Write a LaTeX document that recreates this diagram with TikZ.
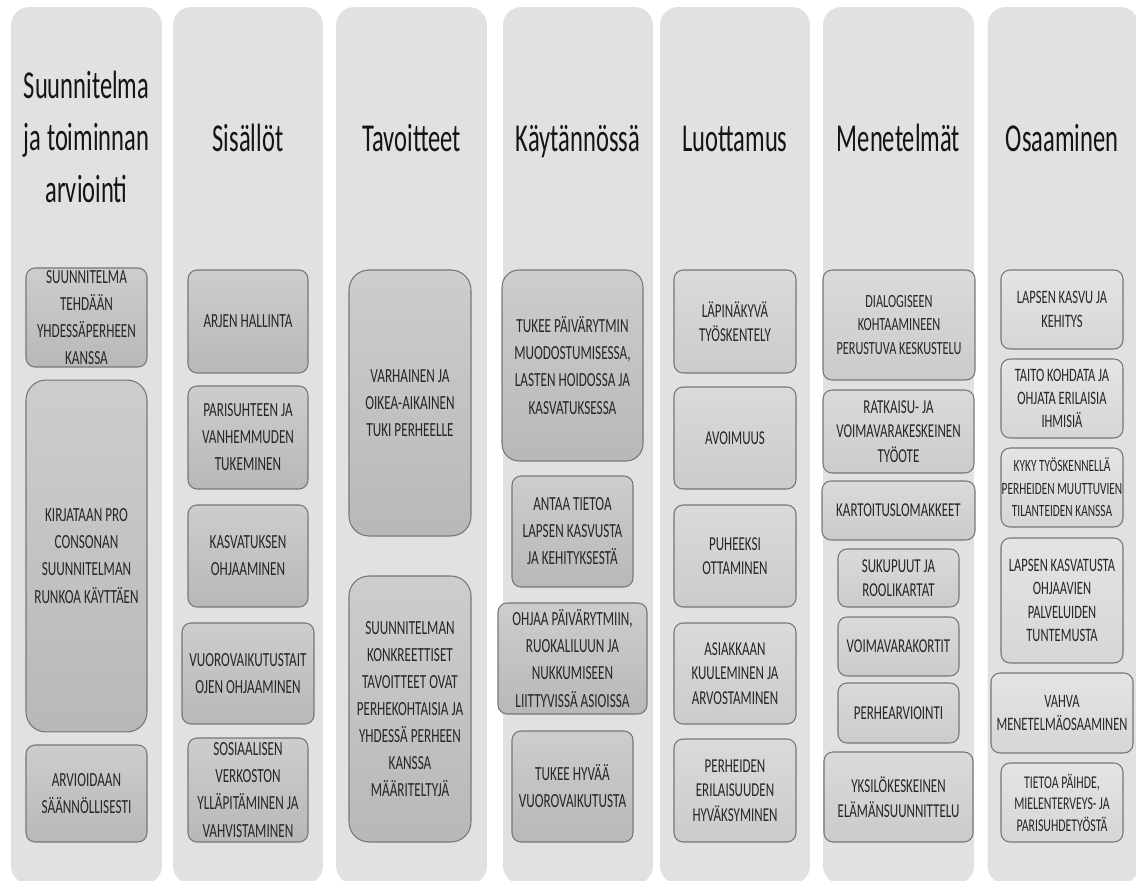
\documentclass[tikz,border=0pt]{standalone}
\usepackage{fontspec}
\setmainfont{Carlito}[FakeStretch=0.66]
\newfontfamily\headfont{Carlito}[FakeStretch=0.62]
\definecolor{lanegray}{HTML}{E1E1E1}
\definecolor{boxline}{HTML}{767676}
\definecolor{boxtext}{HTML}{262626}
\definecolor{darktop}{HTML}{CDCDCD}
\definecolor{darkbot}{HTML}{B8B8B8}
\definecolor{midtop}{HTML}{DADADA}
\definecolor{midbot}{HTML}{CBCBCB}
\definecolor{lighttop}{HTML}{E4E4E4}
\definecolor{lightbot}{HTML}{D6D6D6}

\begin{document}
\begin{tikzpicture}[x=0.02cm,y=-0.02cm]
%style for column background
\tikzstyle{lane} = [rectangle, rounded corners=0.36cm, fill=lanegray, minimum width=3.02cm, minimum height=17.54cm, inner sep=0pt]

%style for column title
\tikzstyle{coltitle} = [font=\headfont\fontsize{22.5}{29.5}\selectfont, align=center, text=black!92]

%style for dark boxes (first four columns)
\tikzstyle{dbox} = [rectangle, rounded corners=0.18cm, draw=boxline, line width=0.6pt, top color=darktop, bottom color=darkbot, align=center, inner sep=0pt, text=boxtext, font=\fontsize{11.4}{15.4}\selectfont]

%style for middle boxes
\tikzstyle{mbox} = [dbox, top color=midtop, bottom color=midbot, font=\fontsize{11.2}{14}\selectfont]

%style for light boxes (last column)
\tikzstyle{lbox} = [dbox, top color=lighttop, bottom color=lightbot, font=\fontsize{10.8}{13.2}\selectfont]

\useasboundingbox (0,0) rectangle (1136,881);

%place columns
\node[lane](lane1) at (86.5,445.5) {};
\node[lane, minimum width=3cm](lane2) at (248,445.5) {};
\node[lane](lane3) at (411.5,445.5) {};
\node[lane, minimum width=3cm](lane4) at (578,445.5) {};
\node[lane, minimum width=3cm](lane5) at (735,445.5) {};
\node[lane](lane6) at (898.5,445.5) {};
\node[lane, minimum width=3.02cm](lane7) at (1063,445.5) {};

%place titles
\node[coltitle](plantitle) at (86.5,137) {Suunnitelma\\ja toiminnan\\arviointi};
\node[coltitle, anchor=base](contenttitle) at (248,152) {Sisällöt};
\node[coltitle, anchor=base](goaltitle) at (411.5,152) {Tavoitteet};
\node[coltitle, anchor=base](practtitle) at (578,152) {Käytännössä};
\node[coltitle, anchor=base](trusttitle) at (735,152) {Luottamus};
\node[coltitle, anchor=base](methtitle) at (898.5,152) {Menetelmät};
\node[coltitle, anchor=base](skilltitle) at (1062,152) {Osaaminen};

%first column
\node[dbox, minimum width=2.42cm, minimum height=1.98cm](plan1) at (86.5,317.5) {SUUNNITELMA\\TEHDÄÄN\\YHDESSÄPERHEEN\\KANSSA};
\node[dbox, rounded corners=0.4cm, minimum width=2.42cm, minimum height=7.04cm](plan2) at (86.5,556) {KIRJATAAN PRO\\CONSONAN\\SUUNNITELMAN\\RUNKOA KÄYTTÄEN};
\node[dbox, minimum width=2.42cm, minimum height=1.94cm](plan3) at (86.5,793.5) {ARVIOIDAAN\\SÄÄNNÖLLISESTI};

%second column
\node[dbox, minimum width=2.4cm, minimum height=2.06cm](cont1) at (248,321.5) {ARJEN HALLINTA};
\node[dbox, minimum width=2.4cm, minimum height=2.06cm](cont2) at (248,437.5) {PARISUHTEEN JA\\VANHEMMUDEN\\TUKEMINEN};
\node[dbox, minimum width=2.4cm, minimum height=2.04cm](cont3) at (248,556) {KASVATUKSEN\\OHJAAMINEN};
\node[dbox, minimum width=2.64cm, minimum height=2.02cm](cont4) at (248,673.5) {VUOROVAIKUTUSTAIT\\OJEN OHJAAMINEN};
\node[dbox, minimum width=2.4cm, minimum height=2.08cm](cont5) at (248,790) {SOSIAALISEN\\VERKOSTON\\YLLÄPITÄMINEN JA\\VAHVISTAMINEN};

%third column
\node[dbox, rounded corners=0.4cm, minimum width=2.44cm, minimum height=5.32cm](goal1) at (410,403) {VARHAINEN JA\\OIKEA-AIKAINEN\\TUKI PERHEELLE};
\node[dbox, rounded corners=0.4cm, minimum width=2.44cm, minimum height=5.32cm](goal2) at (410,709) {SUUNNITELMAN\\KONKREETTISET\\TAVOITTEET OVAT\\PERHEKOHTAISIA JA\\YHDESSÄ PERHEEN\\KANSSA\\MÄÄRITELTYJÄ};

%fourth column
\node[dbox, rounded corners=0.34cm, minimum width=2.82cm, minimum height=3.82cm](pract1) at (572.5,365.5) {TUKEE PÄIVÄRYTMIN\\MUODOSTUMISESSA,\\LASTEN HOIDOSSA JA\\KASVATUKSESSA};
\node[dbox, minimum width=2.42cm, minimum height=2.22cm](pract2) at (572.5,531.5) {ANTAA TIETOA\\LAPSEN KASVUSTA\\JA KEHITYKSESTÄ};
\node[dbox, minimum width=2.98cm, minimum height=2.22cm](pract3) at (572.5,658.5) {OHJAA PÄIVÄRYTMIIN,\\RUOKALILUUN JA\\NUKKUMISEEN\\LIITTYVISSÄ ASIOISSA};
\node[dbox, minimum width=2.42cm, minimum height=2.22cm](pract4) at (572.5,786.5) {TUKEE HYVÄÄ\\VUOROVAIKUTUSTA};

%fifth column
\node[mbox, minimum width=2.44cm, minimum height=2.06cm](trust1) at (735,321.5) {LÄPINÄKYVÄ\\TYÖSKENTELY};
\node[mbox, minimum width=2.44cm, minimum height=2.04cm](trust2) at (735,438) {AVOIMUUS};
\node[mbox, minimum width=2.44cm, minimum height=2.04cm](trust3) at (735,556) {PUHEEKSI\\OTTAMINEN};
\node[mbox, minimum width=2.44cm, minimum height=2.02cm](trust4) at (735,673.5) {ASIAKKAAN\\KUULEMINEN JA\\ARVOSTAMINEN};
\node[mbox, minimum width=2.44cm, minimum height=2.06cm](trust5) at (735,790.5) {PERHEIDEN\\ERILAISUUDEN\\HYVÄKSYMINEN};

%sixth column
\node[mbox, minimum width=3.04cm, minimum height=2.2cm, font=\fontsize{10.6}{13.6}\selectfont](meth1) at (899,325) {DIALOGISEEN\\KOHTAAMINEEN\\PERUSTUVA KESKUSTELU};
\node[mbox, minimum width=3.02cm, minimum height=1.66cm](meth2) at (898.5,431.5) {RATKAISU- JA\\VOIMAVARAKESKEINEN\\TYÖOTE};
\node[mbox, minimum width=3.06cm, minimum height=1.18cm](meth3) at (898.5,510.5) {KARTOITUSLOMAKKEET};
\node[mbox, minimum width=2.42cm, minimum height=1.16cm](meth4) at (898.5,578) {SUKUPUUT JA\\ROOLIKARTAT};
\node[mbox, minimum width=2.42cm, minimum height=1.18cm](meth5) at (898.5,646.5) {VOIMAVARAKORTIT};
\node[mbox, minimum width=2.42cm, minimum height=1.2cm](meth6) at (898.5,713) {PERHEARVIOINTI};
\node[mbox, minimum width=2.98cm, minimum height=1.8cm](meth7) at (898.5,797) {YKSILÖKESKEINEN\\ELÄMÄNSUUNNITTELU};

%seventh column
\node[lbox, minimum width=2.44cm, minimum height=1.58cm](skill1) at (1062,309.5) {LAPSEN KASVU JA\\KEHITYS};
\node[lbox, minimum width=2.44cm, minimum height=1.58cm](skill2) at (1062,398.5) {TAITO KOHDATA JA\\OHJATA ERILAISIA\\IHMISIÄ};
\node[lbox, minimum width=2.44cm, minimum height=1.58cm, font=\fontsize{9.8}{12.8}\selectfont](skill3) at (1062,487.5) {KYKY TYÖSKENNELLÄ\\PERHEIDEN MUUTTUVIEN\\TILANTEIDEN KANSSA};
\node[lbox, minimum width=2.44cm, minimum height=2.5cm](skill4) at (1062,600.5) {LAPSEN KASVATUSTA\\OHJAAVIEN\\PALVELUIDEN\\TUNTEMUSTA};
\node[lbox, minimum width=2.84cm, minimum height=1.6cm](skill5) at (1062,713) {VAHVA\\MENETELMÄOSAAMINEN};
\node[lbox, minimum width=2.44cm, minimum height=1.58cm, font=\fontsize{10.2}{12.2}\selectfont](skill6) at (1062,802.5) {TIETOA PÄIHDE,\\MIELENTERVEYS- JA\\PARISUHDETYÖSTÄ};
\end{tikzpicture}
\end{document}
